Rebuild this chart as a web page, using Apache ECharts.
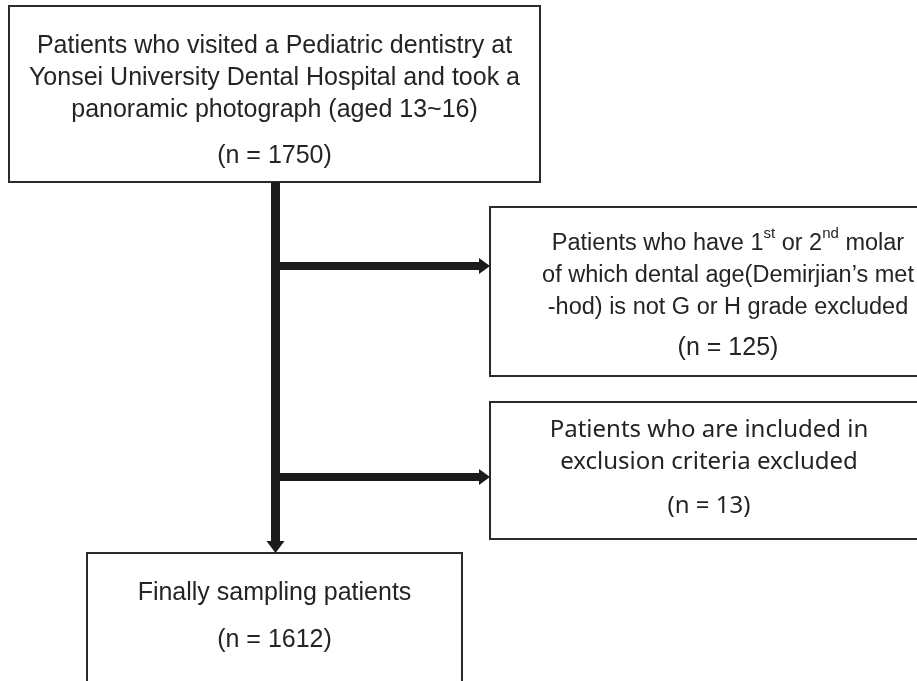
<!DOCTYPE html>
<html>
<head>
<meta charset="utf-8">
<script src="https://cdn.jsdelivr.net/npm/echarts@6/dist/echarts.min.js"></script>
<style>html,body{margin:0;padding:0;background:#fff}#c{width:917px;height:681px}</style>
</head>
<body>
<div id="c"></div>
<script>
// ---- content (data) ----
const stageLines = [
  ['Patients who visited a Pediatric dentistry at', 'Yonsei University Dental Hospital and took a', 'panoramic photograph (aged 13~16)'],
  ['{n|Patients who have 1}{sup|st}{n| or 2}{sup|nd}{n| molar}', '{n|of which dental age(Demirjian\u2019s met}', '{n|-hod) is not G or H grade excluded}'],
  ['{k|Patients who are included in}', '{k|exclusion criteria excluded}'],
  ['Finally sampling patients']
];
const stageCounts = [1750, 125, 13, 1612];

// ---- layout (positions in chart units, separate from data) ----
const boxRects = [[9, 6, 540, 182], [490, 207, 990, 376], [490, 402, 990, 539], [87, 553, 462, 720]];
const textCenterX = [274.5, 728, 709, 274.5];
const lineYs = [[46, 78, 110], [241, 273, 305], [430, 462], [593]];
const countYs = [156, 348, 506, 640];
const mainX = 275.5;
const mainY = [182, 553];
const branchYs = [266, 477];
const branchTargets = [490, 490];

const chart = echarts.init(document.getElementById('c'), null, {renderer: 'canvas'});

const boxData = boxRects.map((r, i) => [r[0], r[1], r[2], r[3], i]);
const textData = [];
stageLines.forEach((lines, i) => {
  lines.forEach((t, j) => textData.push([textCenterX[i], lineYs[i][j], t, i === 2 ? 'k' : 'a']));
  textData.push([textCenterX[i], countYs[i], '(n = ' + stageCounts[i] + ')', i === 2 ? 'k' : 'a']);
});
const arrowData = [[mainX, mainY[0], mainX, mainY[1], 9, 18, 12]]
  .concat(branchYs.map((y, i) => [mainX, y, branchTargets[i], y, 8, 16, 11]));

const fontA = '"Liberation Sans", Arial, sans-serif';
const fontK = '"Noto Sans", "Open Sans", sans-serif';
const txtColor = '#262324';

chart.setOption({
  animation: false,
  grid: {left: 0, right: 0, top: 0, bottom: 0},
  xAxis: {type: 'value', min: 0, max: 917, show: false},
  yAxis: {type: 'value', min: 0, max: 681, inverse: true, show: false},
  series: [
    {
      type: 'custom', coordinateSystem: 'cartesian2d', clip: false,
      data: boxData,
      renderItem: (params, api) => {
        const p0 = api.coord([api.value(0), api.value(1)]);
        const p1 = api.coord([api.value(2), api.value(3)]);
        return {type: 'rect', shape: {x: p0[0], y: p0[1], width: p1[0] - p0[0], height: p1[1] - p0[1]},
          style: {fill: '#fff', stroke: '#2b2b2b', lineWidth: 2}};
      }
    },
    {
      type: 'custom', coordinateSystem: 'cartesian2d', clip: false,
      data: arrowData,
      renderItem: (params, api) => {
        const a = api.coord([api.value(0), api.value(1)]);
        const b = api.coord([api.value(2), api.value(3)]);
        const w = api.value(4), hw = api.value(5), hl = api.value(6);
        const dx = b[0] - a[0], dy = b[1] - a[1];
        const len = Math.hypot(dx, dy); const ux = dx / len, uy = dy / len; const nx = -uy, ny = ux;
        const bx = b[0] - ux * hl, by = b[1] - uy * hl;
        const pts = [
          [a[0] + nx * w / 2, a[1] + ny * w / 2], [bx + nx * w / 2, by + ny * w / 2],
          [bx + nx * hw / 2, by + ny * hw / 2], [b[0], b[1]],
          [bx - nx * hw / 2, by - ny * hw / 2], [bx - nx * w / 2, by - ny * w / 2],
          [a[0] - nx * w / 2, a[1] - ny * w / 2]
        ];
        return {type: 'polygon', shape: {points: pts}, style: {fill: '#1c1a1b'}};
      }
    },
    {
      type: 'custom', coordinateSystem: 'cartesian2d', clip: false,
      data: textData,
      renderItem: (params, api) => {
        const d = textData[params.dataIndex];
        const p = api.coord([d[0], d[1]]);
        const isK = d[3] === 'k';
        return {type: 'text', x: p[0], y: p[1], style: {
          text: d[2], align: 'center', verticalAlign: 'middle',
          fill: txtColor, font: (isK ? '24px ' + fontK : '25px ' + fontA),
          rich: {
            n: {fontFamily: fontA, fontSize: 23.5, fill: txtColor, lineHeight: 30, verticalAlign: 'bottom'},
            sup: {fontFamily: fontA, fontSize: 15, fill: txtColor, lineHeight: 30, verticalAlign: 'top'},
            k: {fontFamily: fontK, fontSize: 24, fill: txtColor}
          }
        }};
      }
    }
  ]
});
</script>
</body>
</html>
